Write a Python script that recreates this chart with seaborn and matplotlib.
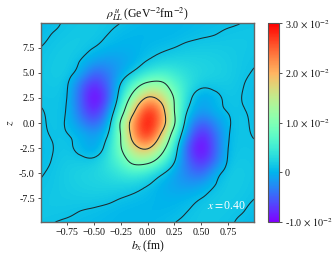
import numpy as np
import matplotlib
matplotlib.use("Agg")
import matplotlib.pyplot as plt
import seaborn as sns

sns.set_style("ticks")
plt.rcParams['font.family'] = ['Liberation Serif', 'DejaVu Serif']
plt.rcParams['mathtext.fontset'] = 'stix'

bx_values = np.linspace(-1, 1, 17)
z_values = np.linspace(10, -10, 17)

# rho values in units of 1e-3, top row z=10 ... bottom row z=-10
z_p1000 = [0.2,0.7,1.2,1.4,1.5,1.4,1.0,0.5,0.3,0.2,0.2,0.3,0.5,0.6,0.8,1.0,1.2]
z_p0875 = [0.6,1.1,1.4,1.6,1.6,1.0,0.3,0.1,0.1,0.1,0.2,0.5,0.8,1.0,1.3,1.4,1.4]
z_p0750 = [1.0,1.4,1.7,1.7,1.0,0.2,-0.1,0.0,0.3,0.6,1.0,1.5,1.7,1.7,1.6,1.5,1.3]
z_p0625 = [1.15,1.6,1.8,1.0,-0.8,-1.6,-1.2,-0.4,1.0,2.0,2.4,2.4,2.3,2.1,1.8,1.4,1.1]
z_p0500 = [1.3,1.7,1.8,-0.3,-5.0,-3.5,-1.0,1.6,4.2,5.5,4.5,3.2,2.6,2.3,1.9,1.3,0.9]
z_p0375 = [1.3,1.5,1.3,-4.5,-8.5,-5.0,1.3,7.5,12.0,12.0,7.0,3.8,1.7,1.6,1.7,1.1,0.6]
z_p0250 = [1.2,1.3,1.0,-5.0,-10.5,-6.5,3.5,13.0,20.5,18.0,9.5,2.6,-1.5,0.3,1.4,1.0,0.6]
z_p0125 = [0.9,1.3,0.8,-4.5,-9.0,-3.8,6.5,19.0,29.0,23.0,10.0,0.8,-1.5,0.2,1.1,1.1,0.7]
z_0000  = [0.6,1.4,0.7,-2.5,-5.5,-1.5,10.5,24.0,30.0,24.0,10.5,-1.5,-5.5,-2.5,0.7,1.4,0.6]
z_m0125 = [0.7,1.1,1.1,0.2,-1.5,0.8,10.0,23.0,29.0,19.0,6.5,-3.8,-9.0,-4.5,0.8,1.3,0.9]
z_m0250 = [0.6,1.0,1.4,0.3,-1.5,2.6,9.5,18.0,20.5,13.0,3.5,-6.5,-10.5,-5.0,1.0,1.3,1.2]
z_m0375 = [0.6,1.1,1.7,1.6,1.7,3.8,7.0,12.0,12.0,7.5,1.3,-5.0,-8.5,-4.5,1.3,1.5,1.3]
z_m0500 = [0.9,1.3,1.9,2.3,2.6,3.2,4.5,5.5,4.2,1.6,-1.0,-3.5,-5.0,-0.3,1.8,1.7,1.3]
z_m0625 = [1.1,1.4,1.8,2.1,2.3,2.4,2.4,2.0,1.0,-0.4,-1.2,-1.6,-0.8,1.0,1.8,1.6,1.15]
z_m0750 = [1.3,1.5,1.6,1.7,1.7,1.5,1.0,0.6,0.3,0.0,-0.1,0.2,1.0,1.7,1.7,1.4,1.0]
z_m0875 = [1.4,1.4,1.3,1.0,0.8,0.5,0.2,0.1,0.1,0.1,0.3,1.0,1.6,1.6,1.4,1.1,0.6]
z_m1000 = [1.2,1.0,0.8,0.6,0.5,0.3,0.2,0.2,0.3,0.5,1.0,1.4,1.5,1.4,1.2,0.7,0.2]

grid = np.array([z_p1000,z_p0875,z_p0750,z_p0625,z_p0500,z_p0375,z_p0250,z_p0125,z_0000,
                 z_m0125,z_m0250,z_m0375,z_m0500,z_m0625,z_m0750,z_m0875,z_m1000]) * 1e-3

contour_levels = [0.001, 0.01, 0.02]
x_ticks = [-0.75,-0.5,-0.25,0,0.25,0.5,0.75]
x_labels = ["\u22120.75","\u22120.50","\u22120.25","0.00","0.25","0.50","0.75"]
y_ticks = [-7.5,-5,-2.5,0,2.5,5,7.5]
y_labels = ["-7.5","-5.0","-2.5","0.0","2.5","5.0","7.5"]
cbar_ticks = [-0.01,0,0.01,0.02,0.03]
cbar_labels = [r"-1.0$\,\times\,10^{-2}$","0",r"1.0$\,\times\,10^{-2}$",r"2.0$\,\times\,10^{-2}$",r"3.0$\,\times\,10^{-2}$"]


def smooth_for_display(a, n=6):
    """Same bicubic (Catmull-Rom) smoothing imshow applies, for the contour lines."""
    def along_rows(m):
        p = np.pad(m, ((0, 0), (1, 1)), mode='edge')
        out = []
        for j in range(m.shape[1]-1):
            for t in np.arange(n)/n:
                w = [(-t**3+2*t**2-t)/2, (3*t**3-5*t**2+2)/2, (-3*t**3+4*t**2+t)/2, (t**3-t**2)/2]
                out.append(sum(w[k]*p[:, j+k] for k in range(4)))
        out.append(m[:, -1])
        return np.array(out).T
    return along_rows(along_rows(a).T).T


fine = smooth_for_display(grid)
fine_x = np.linspace(bx_values[0], bx_values[-1], fine.shape[1])
fine_z = np.linspace(z_values[0], z_values[-1], fine.shape[0])

W, H = 335, 258
fig = plt.figure(figsize=(W/100, H/100), dpi=100)
ax = fig.add_axes([41/W, 1-222/H, 213/W, 198.5/H])
cax = fig.add_axes([267.5/W, 1-222/H, 11/W, 198.5/H])

cmap = sns.color_palette("rainbow", as_cmap=True)
dx = (bx_values[1]-bx_values[0])/2
dz = (z_values[0]-z_values[1])/2
im = ax.imshow(grid, cmap=cmap, vmin=-0.01, vmax=0.03, aspect='auto',
               extent=[bx_values[0]-dx, bx_values[-1]+dx, z_values[-1]-dz, z_values[0]+dz],
               interpolation='bicubic', interpolation_stage='data', origin='upper')
ax.contour(fine_x, fine_z, fine, levels=contour_levels, colors='#1c2a30', linewidths=0.75)
ax.set_xlim(-0.99, 0.99)
ax.set_ylim(-9.85, 9.9)
ax.set_xticks(x_ticks, x_labels)
ax.set_yticks(y_ticks, y_labels)
ax.tick_params(labelsize=7.2, length=2.5, width=0.6, pad=2, color='#333333', labelcolor='#111111')
for s in ax.spines.values():
    s.set_color('#666666'); s.set_linewidth(1.0)
ax.set_xlabel(r"$b_x\,$(fm)", fontsize=8.5, labelpad=1, color='#111111')
ax.set_ylabel(r"$z$", fontsize=8.5, labelpad=2, color='#111111')
ax.set_title(r"$\rho_{LL}^{\,u}\,$(GeV$^{-2}$fm$^{-2}$)", fontsize=8.5, pad=3, color='#111111')
ax.text(0.555, -8.3, r"$x=$0.40", color='white', fontsize=8.5, va='center', ha='left')

cb = fig.colorbar(im, cax=cax)
cb.set_ticks(cbar_ticks, labels=cbar_labels)
cb.ax.tick_params(labelsize=7.2, length=2.5, width=0.6, pad=2, color='#333333', labelcolor='#111111')
cb.outline.set_edgecolor('#555555'); cb.outline.set_linewidth(0.8)

fig.savefig("out.png", dpi=100)
